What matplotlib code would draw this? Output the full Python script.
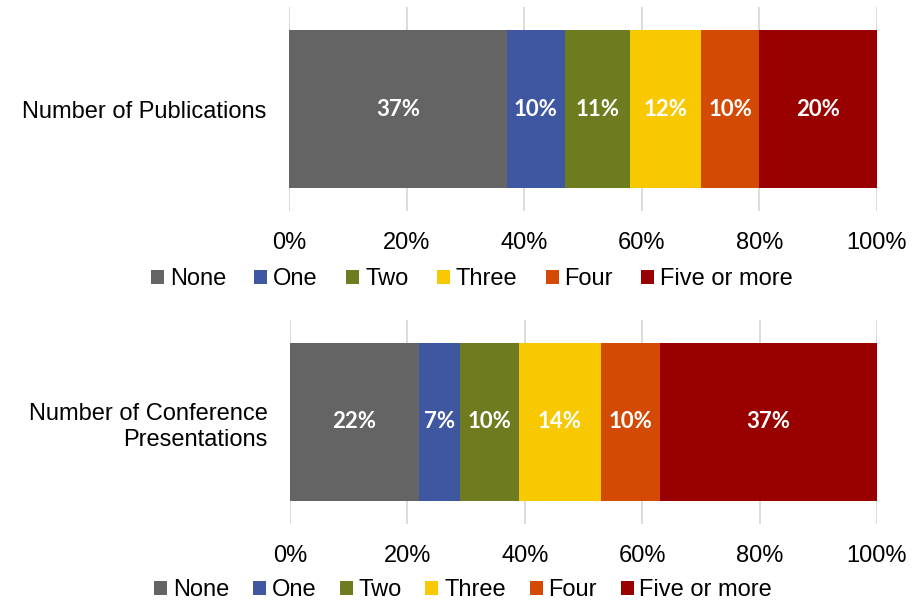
import matplotlib
matplotlib.use("Agg")
import matplotlib.pyplot as plt
from matplotlib.patches import Patch

categories = ["None", "One", "Two", "Three", "Four", "Five or more"]
colors = ["#646464", "#3F57A1", "#6E7C1F", "#F8C800", "#D24A04", "#990000"]
pub_label = "Number of Publications"
pub_values = [37, 10, 11, 12, 10, 20]
conf_label = "Number of Conference\nPresentations"
conf_values = [22, 7, 10, 14, 10, 37]
xticks = [0, 20, 40, 60, 80, 100]
xtick_labels = ["0%", "20%", "40%", "60%", "80%", "100%"]

plt.rcParams['font.family'] = ['Liberation Sans', 'DejaVu Sans']

W, H = 924, 604
fig = plt.figure(figsize=(W / 100, H / 100), dpi=100)

def px_axes(left, right, top, bottom):
    return fig.add_axes([left / W, 1 - bottom / H, (right - left) / W, (bottom - top) / H])

panels = [
    (px_axes(289, 877, 7, 211), pub_label, pub_values, 279, 472, 1.2),
    (px_axes(290, 877, 320, 524), conf_label, conf_values, 590, 463, 1.0),
]

for ax, label, vals, leg_y, leg_x, colsp in panels:
    left = 0
    for cat, v, c in zip(categories, vals, colors):
        ax.barh([0], [v], left=[left], height=0.77, color=c, label=cat, zorder=3)
        ax.text(left + v / 2, 0, f"{v}%", ha='center', va='center', color='white',
                fontsize=16, fontweight='bold', family=['Lato', 'DejaVu Sans'], zorder=4)
        left += v
    ax.set_xlim(0, 100)
    ax.set_ylim(-0.5, 0.5)
    ax.set_xticks(xticks)
    ax.set_xticklabels(xtick_labels, fontsize=17)
    ax.set_yticks([0])
    ax.set_yticklabels([label], fontsize=17, linespacing=1.25)
    ax.tick_params(axis='x', length=0, pad=15)
    ax.tick_params(axis='y', length=0, pad=16)
    ax.grid(axis='x', color='#D9D9D9', linewidth=1.3, zorder=0)
    for s in ax.spines.values():
        s.set_visible(False)
    handles = [Patch(facecolor=c, edgecolor='none') for c in colors]
    fig.legend(handles, categories, loc='center', bbox_to_anchor=(leg_x / W, 1 - leg_y / H),
               ncol=6, frameon=False, fontsize=17, handlelength=0.55, handleheight=0.55,
               handletextpad=0.25, columnspacing=colsp, borderpad=0, borderaxespad=0)

fig.savefig("out.png", dpi=100, facecolor='white')
